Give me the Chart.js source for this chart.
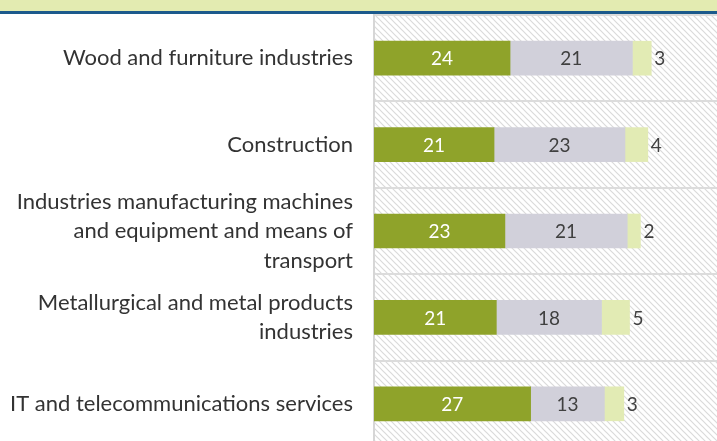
<!DOCTYPE html>
<html>
<head>
<meta charset="utf-8">
<script src="https://cdn.jsdelivr.net/npm/chart.js@4/dist/chart.umd.min.js"></script>
<style>
html,body{margin:0;padding:0;overflow:hidden;background:#fff;}
#wrap{position:relative;width:717px;height:448px;}
</style>
</head>
<body>
<div id="wrap"><canvas id="c" width="717" height="448"></canvas></div>
<script>
const categories = [
  "Wood and furniture industries",
  "Construction",
  ["Industries manufacturing machines", "and equipment and means of", "transport"],
  ["Metallurgical and metal products", "industries"],
  "IT and telecommunications services"
];
const seriesA = [23.8, 21.0, 22.9, 21.4, 27.4];
const seriesB = [21.4, 22.9, 21.4, 18.4, 12.9];
const seriesC = [3.3, 4.0, 2.3, 4.9, 3.4];

const FONT = "Lato, 'Open Sans', sans-serif";

function makeHatch() {
  const n = 6;
  const p = document.createElement('canvas');
  p.width = n; p.height = n;
  const g = p.getContext('2d');
  g.fillStyle = '#ffffff';
  g.fillRect(0, 0, n, n);
  g.strokeStyle = '#dadada';
  g.lineWidth = 1.2;
  g.beginPath();
  g.moveTo(-1, -1); g.lineTo(n + 1, n + 1);
  g.moveTo(-1, n - 1); g.lineTo(1, n + 1);
  g.moveTo(n - 1, -1); g.lineTo(n + 1, 1);
  g.stroke();
  return p;
}

const bgPlugin = {
  id: 'bg',
  beforeDraw(chart) {
    const ctx = chart.ctx, a = chart.chartArea;
    ctx.save();
    ctx.fillStyle = '#e3ebb1';
    ctx.fillRect(0, 0, chart.width, 12);
    ctx.fillStyle = '#1c5a8c';
    ctx.fillRect(0, 11, chart.width, 3);
    ctx.fillStyle = '#dcdcdc';
    ctx.fillRect(a.left, 14, a.right - a.left, 1);
    ctx.fillStyle = ctx.createPattern(makeHatch(), 'repeat');
    ctx.fillRect(a.left, a.top, a.right - a.left, a.bottom - a.top);
    ctx.restore();
  }
};

const labelPlugin = {
  id: 'vlabels',
  afterDatasetsDraw(chart) {
    const ctx = chart.ctx;
    ctx.save();
    ctx.font = "19px " + FONT;
    ctx.textBaseline = 'middle';
    chart.data.datasets.forEach((ds, di) => {
      const meta = chart.getDatasetMeta(di);
      meta.data.forEach((el, i) => {
        const v = Math.round(ds.data[i]);
        if (di === 2) {
          ctx.fillStyle = '#404040';
          ctx.textAlign = 'left';
          ctx.fillText(String(v), el.x + 3, el.y + 1);
        } else {
          ctx.fillStyle = di === 0 ? '#ffffff' : '#404040';
          ctx.textAlign = 'center';
          ctx.fillText(String(v), (el.x + el.base) / 2, el.y + 1);
        }
      });
    });
    ctx.restore();
  }
};

new Chart(document.getElementById('c'), {
  type: 'bar',
  data: {
    labels: categories,
    datasets: [
      { data: seriesA, backgroundColor: '#8fa32a', barThickness: 34 },
      { data: seriesB, backgroundColor: '#d1d0da', barThickness: 34 },
      { data: seriesC, backgroundColor: '#e2ebb4', barThickness: 34 }
    ]
  },
  options: {
    indexAxis: 'y',
    responsive: false,
    animation: false,
    layout: { padding: { top: 15, bottom: 1, left: 0, right: 0 } },
    plugins: { legend: { display: false }, tooltip: { enabled: false } },
    scales: {
      x: {
        stacked: true, min: 0, max: 60, display: false
      },
      y: {
        stacked: true,
        afterFit(s) { s.width = 374; s.paddingTop = 0; s.paddingBottom = 0; },
        border: { display: true, color: '#d6d6d6', width: 2 },
        grid: { display: true, offset: true, color: '#dcdcdc', lineWidth: 2, drawTicks: false },
        ticks: {
          autoSkip: false,
          color: '#333333',
          padding: 21,
          font: { family: FONT, size: 22, lineHeight: 1.34 }
        }
      }
    }
  },
  plugins: [bgPlugin, labelPlugin]
});
</script>
</body>
</html>
